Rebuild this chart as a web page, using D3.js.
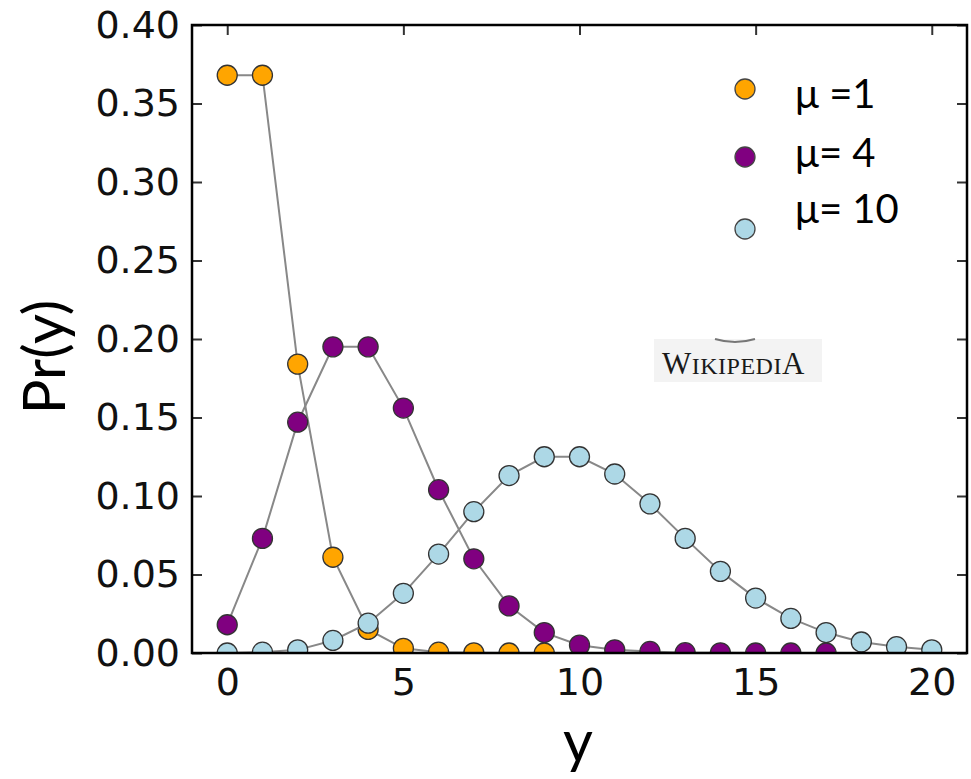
<!DOCTYPE html>
<html lang="en">
<head>
<meta charset="utf-8">
<title>Poisson</title>
<script type="text/javascript" src="https://cdnjs.cloudflare.com/ajax/libs/d3/7.8.5/d3.min.js"></script>
<style type="text/css">
  body { margin: 0; background: #fff; }
  .tick text { font-family: "DejaVu Sans", sans-serif; font-size: 38px; fill: #111; }
</style>
</head>
<body>
<script type="text/javascript">
  var w = 971;
  var h = 779;

  // values
  var xTicks = [0, 5, 10, 15, 20];
  var yTicks = [0.00, 0.05, 0.10, 0.15, 0.20, 0.25, 0.30, 0.35, 0.40];
  var names = ["\u03bc =1", "\u03bc= 4", "\u03bc= 10"];
  var colors = ["#ffa500", "#800080", "#add8e6"];
  var mu1 = [0.368, 0.368, 0.184, 0.061, 0.015, 0.003, 0.0005, 0.0001, 0.0000, 0.0000];
  var mu4 = [0.018, 0.073, 0.147, 0.195, 0.195, 0.156, 0.104, 0.060, 0.030, 0.013,
             0.005, 0.002, 0.001, 0.0002, 0.0001, 0.0000, 0.0000, 0.0000];
  var mu10 = [0.0000, 0.0005, 0.002, 0.008, 0.019, 0.038, 0.063, 0.090, 0.113, 0.125,
              0.125, 0.114, 0.095, 0.073, 0.052, 0.035, 0.022, 0.013, 0.007, 0.004, 0.002];
  var series = [mu1, mu4, mu10];

  var pLeft = 192, pRight = 967, pTop = 25, pBottom = 653;

  var x = d3.scaleLinear().domain([-1, 21]).range([pLeft, pRight]);
  var y = d3.scaleLinear().domain([0, 0.4]).range([pBottom, pTop]);

  var svg = d3.select("body")
              .append("svg")
              .attr("width", w)
              .attr("height", h);

  svg.append("clipPath").attr("id", "plot")
     .append("rect")
     .attr("x", pLeft).attr("y", pTop)
     .attr("width", pRight - pLeft).attr("height", pBottom - pTop);

  // axes, ticks pointing in
  function style(g) {
    g.select(".domain").remove();
    g.selectAll(".tick line").attr("stroke", "#333").attr("stroke-width", 2);
  }
  svg.append("g").attr("transform", "translate(0," + pBottom + ")")
     .call(d3.axisBottom(x).tickValues(xTicks).tickSize(-10).tickPadding(15).tickFormat(d3.format("d")))
     .call(style);
  svg.append("g").attr("transform", "translate(0," + pTop + ")")
     .call(d3.axisTop(x).tickValues(xTicks).tickSize(-10).tickFormat(""))
     .call(style);
  svg.append("g").attr("transform", "translate(" + pLeft + ",0)")
     .call(d3.axisLeft(y).tickValues(yTicks).tickSize(-10).tickPadding(12).tickFormat(d3.format(".2f")))
     .call(style);
  svg.append("g").attr("transform", "translate(" + pRight + ",0)")
     .call(d3.axisRight(y).tickValues(yTicks).tickSize(-10).tickFormat(""))
     .call(style);

  // series
  var line = d3.line()
               .x(function (d, i) { return x(i); })
               .y(function (d) { return y(d); });

  var plot = svg.append("g").attr("clip-path", "url(#plot)");
  series.forEach(function (s, k) {
    plot.append("path")
        .attr("d", line(s))
        .attr("fill", "none")
        .attr("stroke", "#888")
        .attr("stroke-width", 2);
    plot.selectAll("circle.s" + k)
        .data(s)
        .enter()
        .append("circle")
        .attr("class", "s" + k)
        .attr("cx", function (d, i) { return x(i); })
        .attr("cy", function (d) { return y(d); })
        .attr("r", 10)
        .attr("fill", colors[k])
        .attr("stroke", "#333")
        .attr("stroke-width", 1.3);
  });

  // frame
  svg.append("rect")
     .attr("x", pLeft).attr("y", pTop)
     .attr("width", pRight - pLeft).attr("height", pBottom - pTop)
     .attr("fill", "none")
     .attr("stroke", "#000")
     .attr("stroke-width", 2.5);

  // legend
  var legY = [89, 157, 229];
  var textY = [108, 167, 223];
  var leg = svg.append("g");
  names.forEach(function (n, k) {
    leg.append("circle")
       .attr("cx", 745).attr("cy", legY[k]).attr("r", 10)
       .attr("fill", colors[k]).attr("stroke", "#444").attr("stroke-width", 1.3);
    leg.append("text")
       .attr("x", 795).attr("y", textY[k])
       .attr("font-family", "Lato, sans-serif")
       .attr("font-size", 40)
       .attr("fill", "#000")
       .text(n);
  });

  // wikipedia watermark
  svg.append("clipPath").attr("id", "wiki")
     .append("rect").attr("x", 654).attr("y", 330).attr("width", 168).attr("height", 52);
  var wk = svg.append("g").attr("clip-path", "url(#wiki)");
  wk.append("rect").attr("x", 654).attr("y", 339).attr("width", 168).attr("height", 43).attr("fill", "#f3f3f3");
  wk.append("path").attr("d", "M715,339 Q735,345 755,339").attr("fill", "none").attr("stroke", "#777").attr("stroke-width", 2);
  var wt = wk.append("text").attr("x", 662).attr("y", 374)
             .attr("font-family", "Liberation Serif, serif").attr("fill", "#1a1a1a").attr("letter-spacing", 0.5);
  wt.append("tspan").attr("font-size", 31).text("W");
  wt.append("tspan").attr("font-size", 24).text("IKIPEDI");
  wt.append("tspan").attr("font-size", 31).text("A");
  wk.append("text").attr("x", 664).attr("y", 392)
    .attr("font-family", "Liberation Serif, serif").attr("font-size", 15).attr("fill", "#444")
    .attr("letter-spacing", 3)
    .text("The Free Encyclopedia");

  // axis titles
  svg.append("text")
     .attr("transform", "translate(65,357) rotate(-90)")
     .attr("text-anchor", "middle")
     .attr("font-family", "Lato, sans-serif")
     .attr("font-size", 58)
     .text("Pr(y)");
  svg.append("text")
     .attr("x", 578).attr("y", 762)
     .attr("text-anchor", "middle")
     .attr("font-family", "Lato, sans-serif")
     .attr("font-size", 58)
     .text("y");
</script>
</body>
</html>
